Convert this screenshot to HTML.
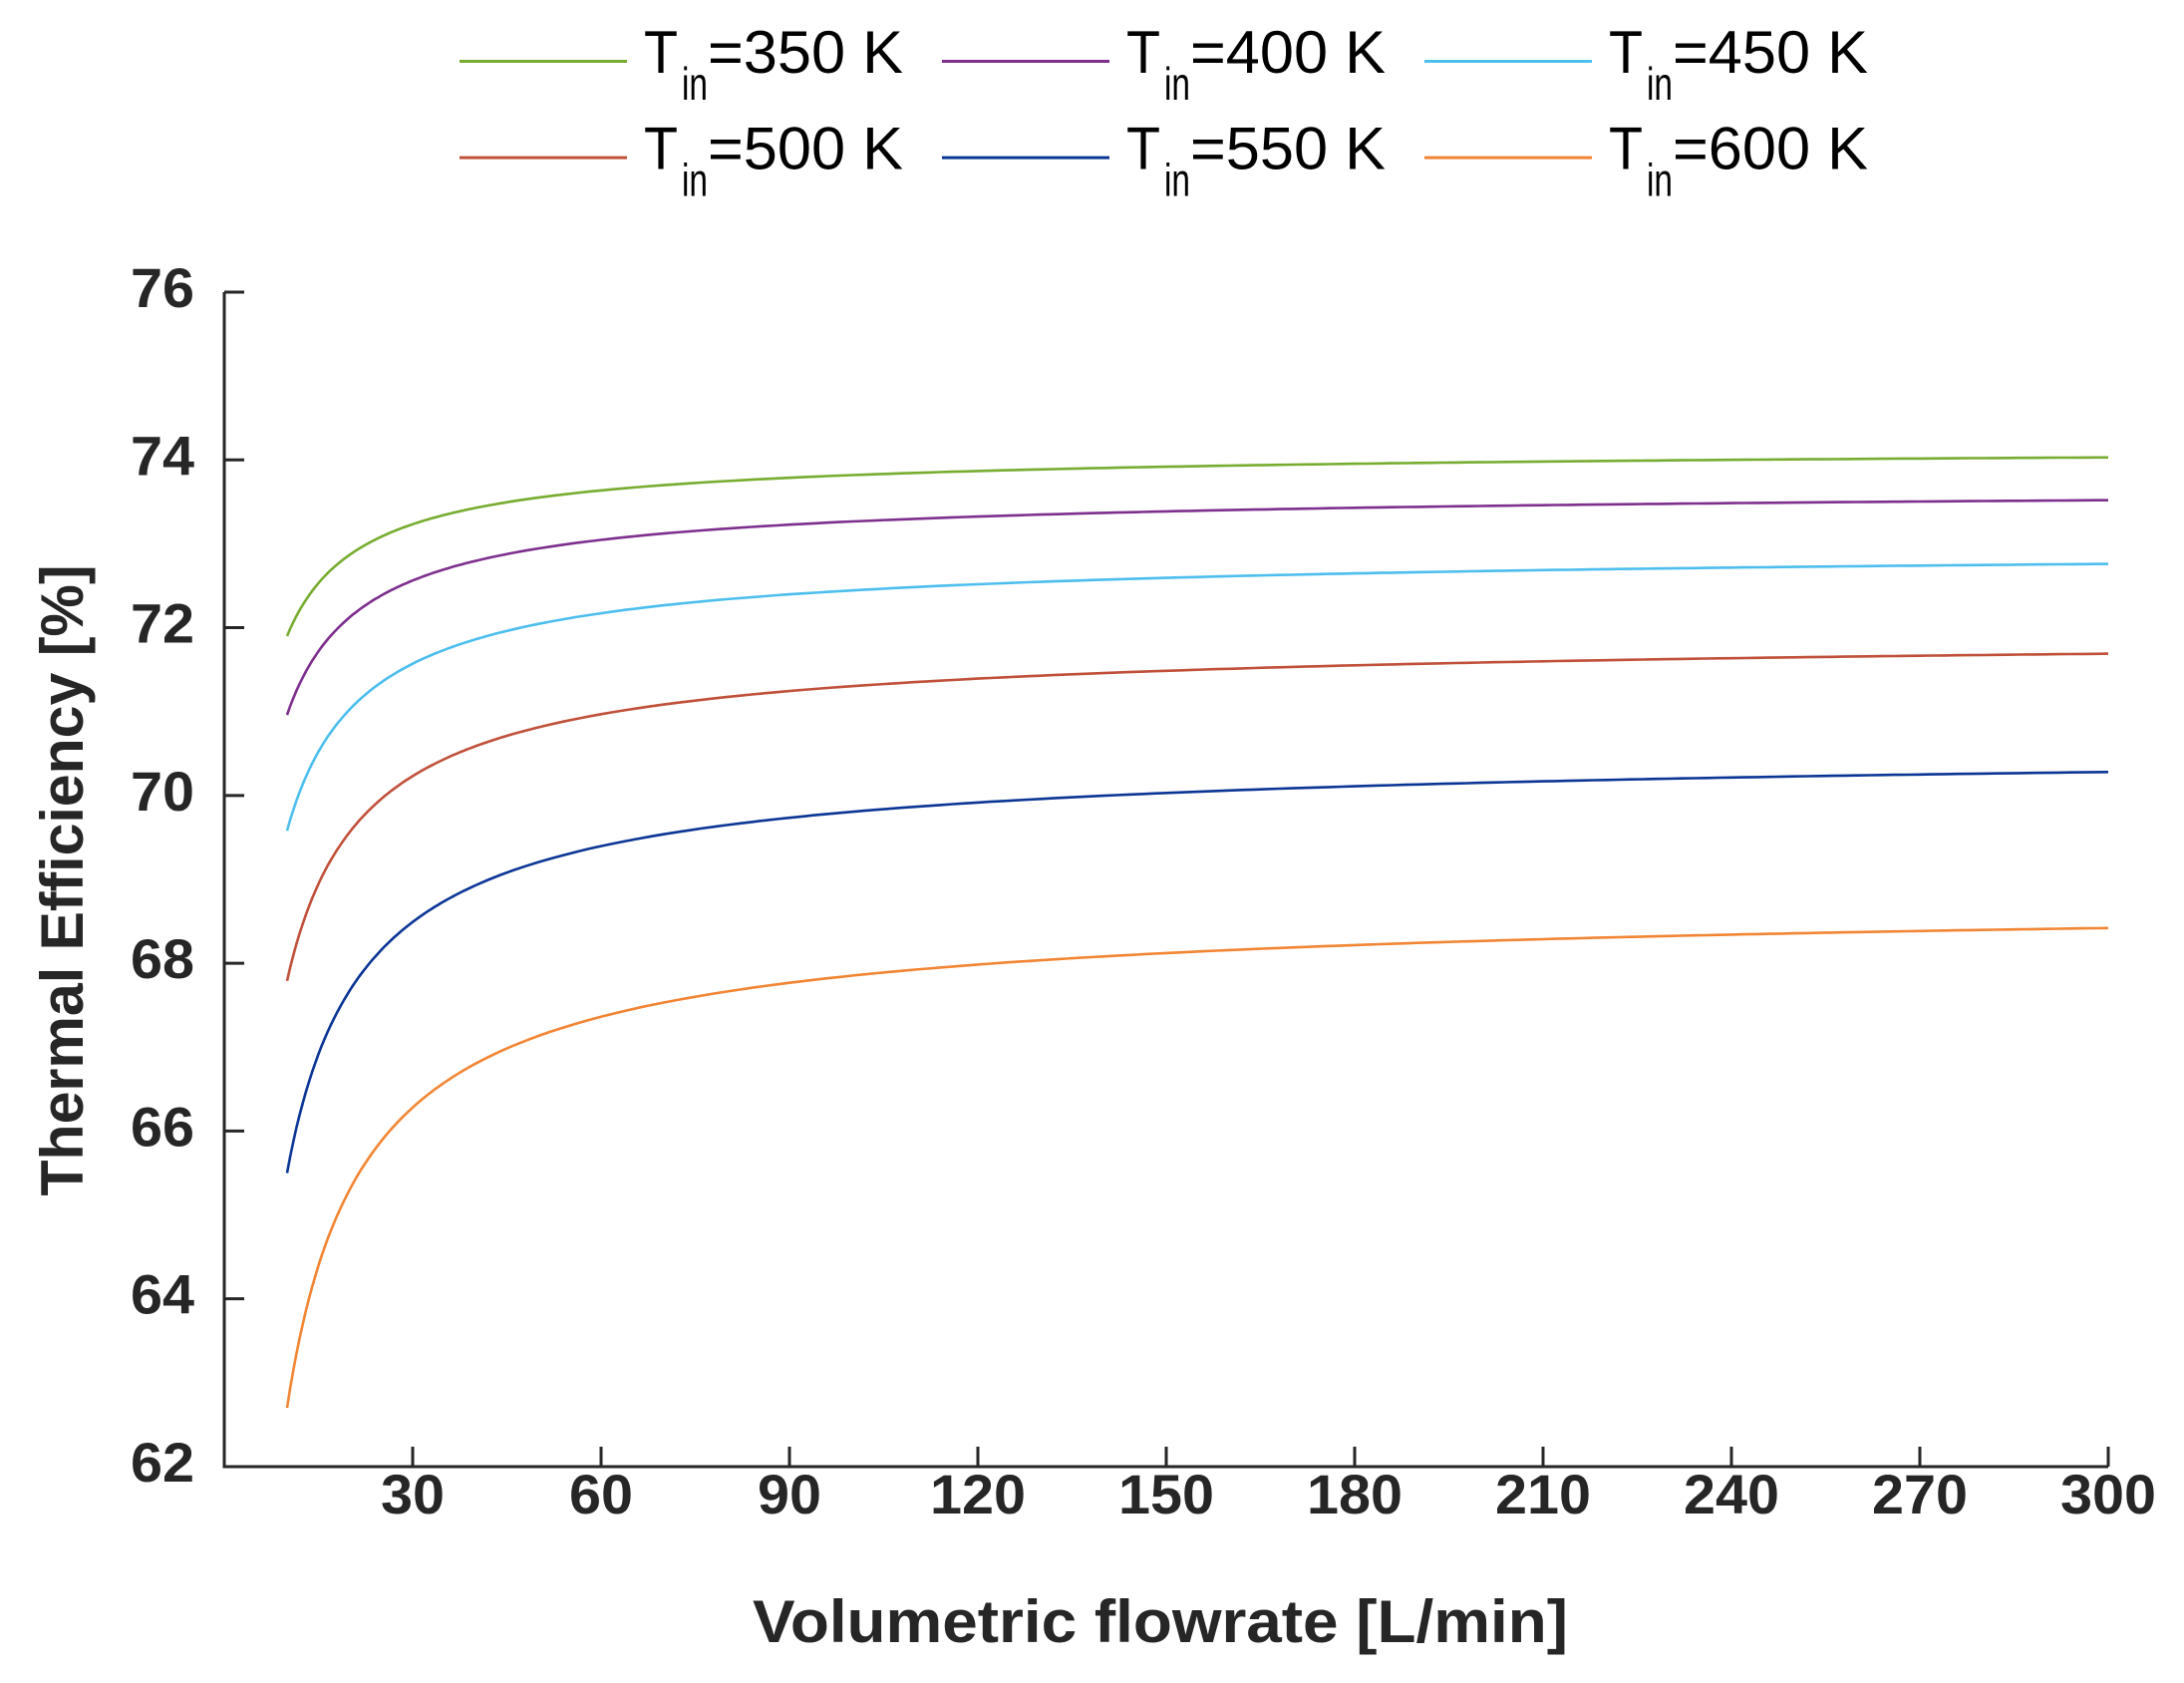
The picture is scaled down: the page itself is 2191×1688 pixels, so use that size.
<!DOCTYPE html>
<html><head><meta charset="utf-8"><style>html,body{margin:0;padding:0;background:#fff}</style></head>
<body>
<svg id="s" width="2191" height="1683" xmlns="http://www.w3.org/2000/svg" font-family="Liberation Sans, sans-serif">
<g id="legend" font-size="60" fill="#000"></g>
<g id="axes" stroke="#262626" stroke-width="3" fill="none"></g>
<g id="labels" font-weight="bold" font-size="56" fill="#262626"></g>
<g id="curves" fill="none" stroke-width="2.6"></g>
<text x="1164" y="1647" font-weight="bold" font-size="60" fill="#262626" text-anchor="middle" textLength="818" lengthAdjust="spacingAndGlyphs">Volumetric flowrate [L/min]</text>
<text transform="translate(83,883) rotate(-90)" font-weight="bold" font-size="60" fill="#262626" text-anchor="middle" textLength="633" lengthAdjust="spacingAndGlyphs">Thermal Efficiency [%]</text>
</svg>
<script>
const NS="http://www.w3.org/2000/svg";
function el(p,t,a,txt){const e=document.createElementNS(NS,t);for(const k in a)e.setAttribute(k,a[k]);if(txt!==undefined)e.textContent=txt;document.getElementById(p).appendChild(e);return e;}
const X=v=>225+v*6.3, Y=v=>293+(76-v)*84.14;
el('axes','path',{d:`M${X(0)},${Y(76)} L${X(0)},${Y(62)} L${X(300)},${Y(62)}`});
for(let v=62;v<=76;v+=2){el('axes','line',{x1:X(0),x2:X(0)+20,y1:Y(v),y2:Y(v)});
 el('labels','text',{x:195,y:Y(v)+15,'text-anchor':'end',textLength:64,lengthAdjust:'spacingAndGlyphs'},String(v));}
for(let v=30;v<=300;v+=30){el('axes','line',{x1:X(v),x2:X(v),y1:Y(62),y2:Y(62)-20});
 const s=String(v);el('labels','text',{x:X(v),y:1518,'text-anchor':'middle',textLength:s.length*32,lengthAdjust:'spacingAndGlyphs'},s);}
const series=[["#77ac30",71.9,74.03],["#7e2f8e",70.96,73.52],["#4dbeee",69.58,72.76],["#c0503a",67.79,71.69],["#0b3595",65.5,70.28],["#f28534",62.7,68.42]];
const p=0.8,f=v=>Math.pow(v,-p);
for(const [c,a,b] of series){const k=(b-a)/(f(10)-f(300)),inf=b+k*f(300);let d="";
 for(let v=10;v<=300;v+=(v<40?0.5:2)){d+=(d?"L":"M")+X(v).toFixed(1)+","+Y(inf-k*f(v)).toFixed(1);}
 d+="L"+X(300).toFixed(1)+","+Y(b).toFixed(1);
 el('curves','path',{d:d,stroke:c});}
const leg=[["350",0,0],["400",1,0],["450",2,0],["500",0,1],["550",1,1],["600",2,1]];
leg.forEach(([t,col,row],i)=>{const x0=461+col*484,y0=61.5+row*96.6;
 el('legend','line',{x1:x0,x2:x0+168,y1:y0,y2:y0,stroke:series[i][0],'stroke-width':3});
 const bl=y0+11.5;
 el('legend','text',{x:x0+185,y:bl,textLength:34,lengthAdjust:'spacingAndGlyphs'},"T");
 el('legend','text',{x:x0+223,y:bl+27,'font-size':46,textLength:26,lengthAdjust:'spacingAndGlyphs'},"in");
 el('legend','text',{x:x0+249,y:bl,textLength:196,lengthAdjust:'spacingAndGlyphs'},"="+t+" K");});
</script>
</body></html>
